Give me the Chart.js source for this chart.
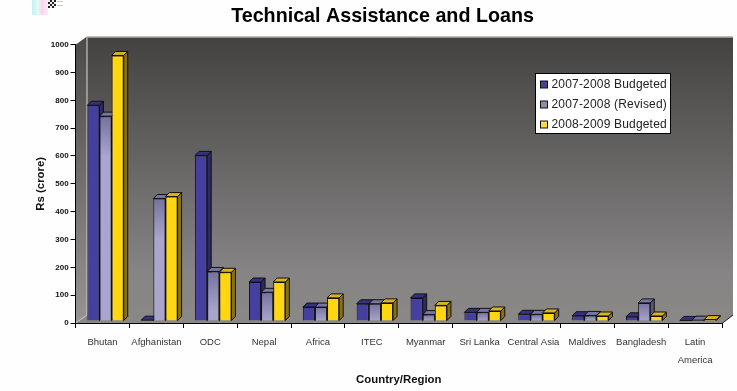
<!DOCTYPE html>
<html>
<head>
<meta charset="utf-8">
<title>Technical Assistance and Loans</title>
<script src="https://cdn.jsdelivr.net/npm/chart.js@4"></script>
<style>
  html, body { margin: 0; padding: 0; background: #fefefe; }
  canvas { display: block; }
</style>
</head>
<body>
<canvas id="chart" width="737" height="391"></canvas>
<script>
const categories = ['Bhutan', 'Afghanistan', 'ODC', 'Nepal', 'Africa', 'ITEC', 'Myanmar', 'Sri Lanka',
  'Central Asia', 'Maldives', 'Bangladesh', ['Latin', 'America']];
const budgeted0708 = [775, 3, 595, 140, 50, 62, 83, 31, 24, 19, 15, 2];
const revised0708 = [736, 440, 178, 103, 50, 62, 23, 31, 24, 20, 65, 3];
const budgeted0809 = [954, 447, 175, 140, 83, 65, 56, 36, 29, 18, 18, 5];
const yTicks = [0, 100, 200, 300, 400, 500, 600, 700, 800, 900, 1000];

const seriesColors = ['#45409f', '#a6a2c8', '#ffd60f'];
const sideColors = ['#2b2966', '#57567c', '#8a7118'];
const topColors = ['#34317f', '#77769f', '#d8b324'];
const swatchColors = ['#45409f', '#8f8da8', '#ffd84a'];

const DEPTH_X = 11, DEPTH_Y = 8;   // depth of the box
const BAR_DX = 3, BAR_DY = -2;     // bars stand a bit inside the floor
const EXTRUDE = 4;

// revised series goes from dark at the top to light further down
function revisedFill(c) {
  if (c.type !== 'data' || !c.chart.scales.y) return seriesColors[1];
  const y = c.chart.scales.y;
  const top = y.getPixelForValue(revised0708[c.dataIndex]);
  if (!isFinite(top) || !isFinite(y.bottom)) return seriesColors[1];
  const g = c.chart.ctx.createLinearGradient(0, top, 0, Math.min(top + 40, y.bottom));
  g.addColorStop(0, '#74729f');
  g.addColorStop(1, '#a9a5cc');
  return g;
}

const box3d = {
  id: 'box3d',
  beforeDraw(chart) {
    const { ctx, chartArea: a } = chart;
    ctx.save();

    // stray bit of image at the top left of the original
    const stray = ctx.createLinearGradient(32, 0, 50, 0);
    stray.addColorStop(0, '#c4f2f2');
    stray.addColorStop(0.35, '#e6f8f8');
    stray.addColorStop(0.55, '#fbd5ea');
    stray.addColorStop(1, '#fdf0f8');
    ctx.fillStyle = stray;
    ctx.fillRect(32, 0, 16, 15);
    for (let i = 0; i < 4; i++) {
      for (let j = 0; j < 4; j++) {
        ctx.fillStyle = (i + j) % 2 ? '#222' : '#eee';
        ctx.fillRect(48 + i * 2, j * 2, 2, 2);
      }
    }
    ctx.fillStyle = '#ccc';
    ctx.fillRect(57, 1, 6, 1);
    ctx.fillRect(57, 5, 6, 1);

    const backL = a.left + DEPTH_X, backR = a.right + DEPTH_X;
    const backT = a.top - DEPTH_Y, backB = a.bottom - DEPTH_Y;

    const wall = ctx.createLinearGradient(0, backT, 0, backB);
    wall.addColorStop(0, '#444241');
    wall.addColorStop(0.85, '#868484');
    wall.addColorStop(1, '#8a8886');
    ctx.fillStyle = wall;
    ctx.fillRect(backL, backT, backR - backL, backB - backT);

    // left wall
    const side = ctx.createLinearGradient(0, backT, 0, a.bottom);
    side.addColorStop(0, '#4c4a48');
    side.addColorStop(1, '#969492');
    ctx.fillStyle = side;
    ctx.beginPath();
    ctx.moveTo(a.left, a.top);
    ctx.lineTo(backL, backT);
    ctx.lineTo(backL, backB);
    ctx.lineTo(a.left, a.bottom);
    ctx.closePath();
    ctx.fill();

    // floor
    ctx.fillStyle = '#8a8886';
    ctx.beginPath();
    ctx.moveTo(a.left, a.bottom);
    ctx.lineTo(backL, backB);
    ctx.lineTo(backR, backB);
    ctx.lineTo(a.right, a.bottom);
    ctx.closePath();
    ctx.fill();

    // light edges
    ctx.strokeStyle = '#c4c2c0';
    ctx.lineWidth = 1;
    ctx.beginPath();
    ctx.moveTo(a.left, a.bottom);
    ctx.lineTo(backL + 0.5, backB);
    ctx.lineTo(backL + 0.5, backT + 0.5);
    ctx.lineTo(backR, backT + 0.5);
    ctx.stroke();

    ctx.strokeStyle = '#111';
    ctx.beginPath();
    ctx.moveTo(a.right, a.bottom + 0.5);
    ctx.lineTo(backR, backB);
    ctx.stroke();
    ctx.restore();
  },
  // all sides and tops first, the library then paints the fronts over them.
  // the translate stays on until afterDatasetsDraw so the fronts move as well
  beforeDatasetsDraw(chart) {
    const { ctx } = chart;
    ctx.save();
    ctx.translate(BAR_DX, BAR_DY);
    ctx.strokeStyle = '#111';
    ctx.lineWidth = 1;
    chart.data.datasets.forEach((ds, i) => {
      chart.getDatasetMeta(i).data.forEach((bar) => {
        const p = bar.getProps(['x', 'y', 'base', 'width'], true);
        const l = p.x - p.width / 2, r = p.x + p.width / 2;
        ctx.fillStyle = sideColors[i];
        ctx.beginPath();
        ctx.moveTo(r, p.y);
        ctx.lineTo(r + EXTRUDE, p.y - EXTRUDE);
        ctx.lineTo(r + EXTRUDE, p.base - EXTRUDE);
        ctx.lineTo(r, p.base);
        ctx.closePath();
        ctx.fill();
        ctx.stroke();
        ctx.fillStyle = topColors[i];
        ctx.beginPath();
        ctx.moveTo(l, p.y);
        ctx.lineTo(l + EXTRUDE, p.y - EXTRUDE);
        ctx.lineTo(r + EXTRUDE, p.y - EXTRUDE);
        ctx.lineTo(r, p.y);
        ctx.closePath();
        ctx.fill();
        ctx.stroke();
      });
    });
  },
  afterDatasetsDraw(chart) {
    chart.ctx.restore();
  },
  afterDraw(chart) {
    const { ctx, data } = chart;
    const x = 535.5, y = 73.5, w = 135, h = 60;
    ctx.save();
    ctx.fillStyle = '#fff';
    ctx.strokeStyle = '#000';
    ctx.lineWidth = 1;
    ctx.fillRect(x, y, w, h);
    ctx.strokeRect(x, y, w, h);
    ctx.font = '12px "Liberation Sans"';
    ctx.letterSpacing = '0.18px';
    ctx.textBaseline = 'middle';
    data.datasets.forEach((ds, i) => {
      const rowY = 84.5 + i * 20;
      ctx.fillStyle = swatchColors[i];
      ctx.strokeStyle = '#111';
      ctx.fillRect(540.5, rowY - 3.5, 7, 7);
      ctx.strokeRect(540.5, rowY - 3.5, 7, 7);
      ctx.fillStyle = '#222';
      ctx.fillText(ds.label, 551.5, rowY);
    });
    ctx.restore();
  }
};

new Chart(document.getElementById('chart'), {
  type: 'bar',
  data: {
    labels: categories,
    datasets: [
      { label: '2007-2008 Budgeted', data: budgeted0708, backgroundColor: seriesColors[0] },
      { label: '2007-2008 (Revised)', data: revised0708, backgroundColor: revisedFill },
      { label: '2008-2009 Budgeted', data: budgeted0809, backgroundColor: seriesColors[2] }
    ]
  },
  options: {
    responsive: false,
    animation: false,
    layout: { padding: { left: 43, right: 15, top: 0, bottom: 0 } },
    datasets: { bar: { borderColor: '#111', borderWidth: 1, categoryPercentage: 0.675, barPercentage: 1 } },
    plugins: {
      legend: { display: false },
      tooltip: { enabled: false },
      title: {
        display: true,
        text: 'Technical Assistance and Loans',
        color: '#000',
        font: { family: '"Liberation Sans"', size: 19.7, weight: 'bold' },
        padding: { top: 5, bottom: 16 }
      }
    },
    scales: {
      x: {
        afterFit: (s) => { s.height = 68; },
        grid: { drawOnChartArea: false, color: '#000', tickLength: 5, offset: true },
        border: { color: '#000' },
        ticks: {
          color: '#333',
          autoSkip: false,
          maxRotation: 0,
          padding: 5,
          font: { family: '"Liberation Sans"', size: 9.5, lineHeight: 1.9 }
        },
        title: {
          display: true,
          text: 'Country/Region',
          color: '#111',
          font: { family: '"Liberation Sans"', size: 11.4, weight: 'bold' },
          padding: { top: 0, bottom: 4 }
        }
      },
      y: {
        min: 0,
        max: 1000,
        afterFit: (s) => { s.width = 32.6; },
        afterBuildTicks: (s) => { s.ticks = yTicks.map((v) => ({ value: v })); },
        grid: { drawOnChartArea: false, color: '#000', tickLength: 5 },
        border: { color: '#000' },
        ticks: {
          color: '#111',
          padding: 2,
          callback: (v) => String(v),
          font: { family: '"Liberation Sans"', size: 8, weight: 'bold' }
        },
        title: {
          display: true,
          text: 'Rs (crore)',
          color: '#111',
          font: { family: '"Liberation Sans"', size: 11.4, weight: 'bold' },
          padding: { top: -9, bottom: 0 }
        }
      }
    }
  },
  plugins: [box3d]
});
</script>
</body>
</html>
